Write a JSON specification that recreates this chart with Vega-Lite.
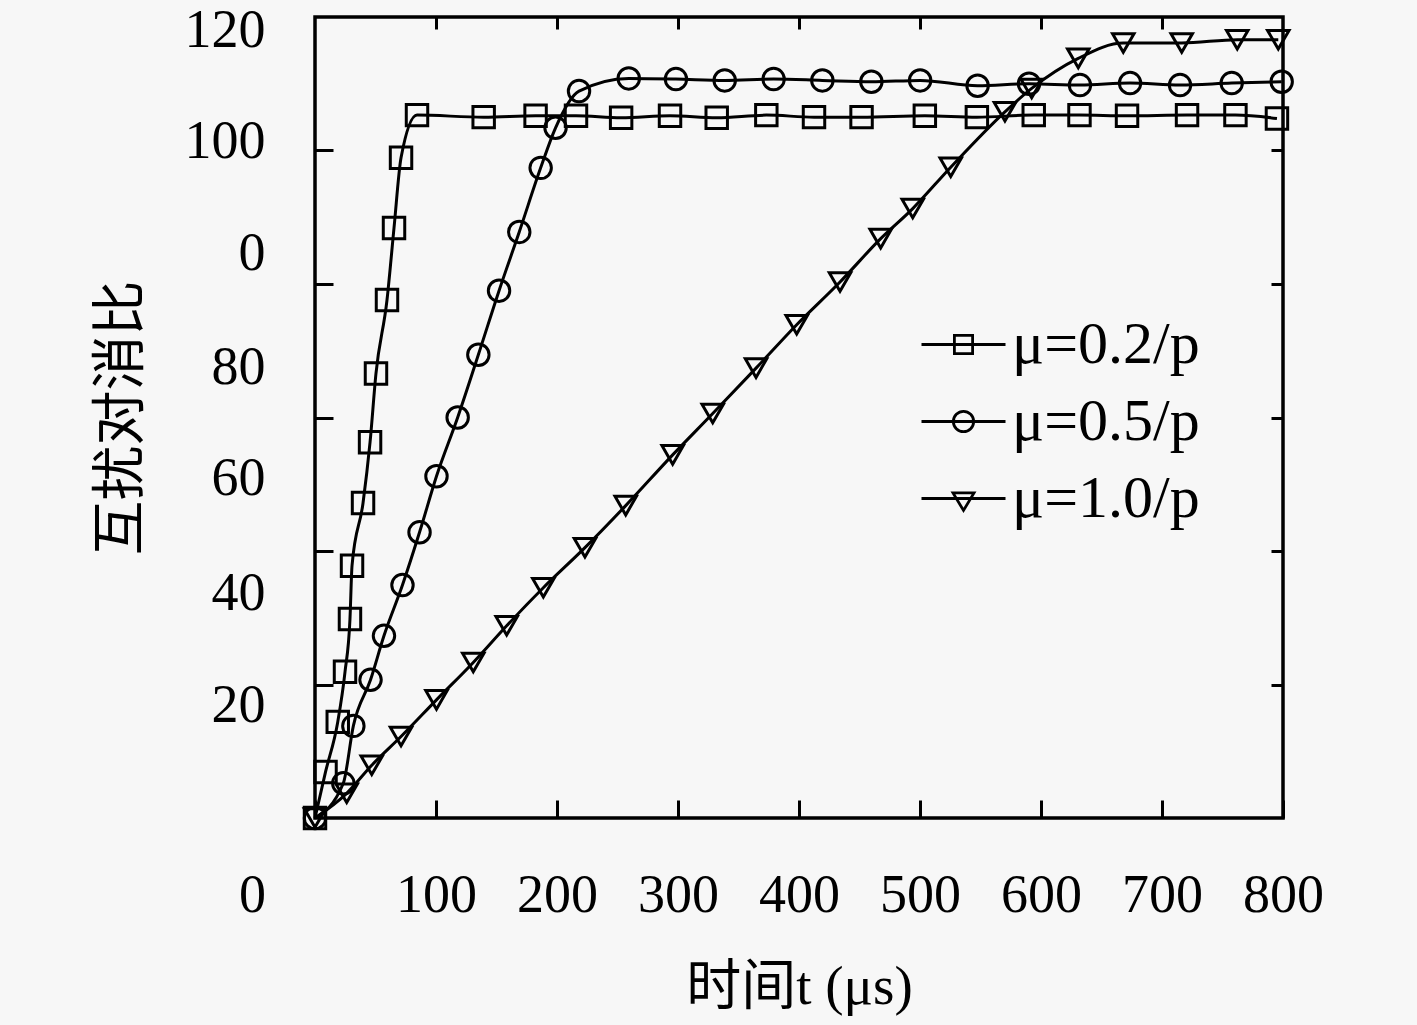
{
  "$schema": "https://vega.github.io/schema/vega-lite/v6.json",
  "width": 968,
  "height": 801,
  "autosize": {"type": "none"},
  "padding": {"left": 315, "top": 17, "right": 134, "bottom": 207},
  "background": "#f7f7f7",
  "config": {
    "view": {"stroke": "#000", "strokeWidth": 3.5},
    "axis": {"grid": false, "domain": false, "tickColor": "#000", "tickWidth": 3, "labelColor": "#000", "titleColor": "#000"}
  },
  "data": {
    "values": [
      {"series": "μ=0.2/p", "t": 0, "v": 0},
      {"series": "μ=0.2/p", "t": 8.7, "v": 6.9},
      {"series": "μ=0.2/p", "t": 18.8, "v": 14.4},
      {"series": "μ=0.2/p", "t": 24.8, "v": 21.9},
      {"series": "μ=0.2/p", "t": 28.9, "v": 29.8},
      {"series": "μ=0.2/p", "t": 30.6, "v": 37.8},
      {"series": "μ=0.2/p", "t": 39.7, "v": 47.2},
      {"series": "μ=0.2/p", "t": 45.5, "v": 56.3},
      {"series": "μ=0.2/p", "t": 50.4, "v": 66.6},
      {"series": "μ=0.2/p", "t": 59.5, "v": 77.6},
      {"series": "μ=0.2/p", "t": 65.3, "v": 88.4},
      {"series": "μ=0.2/p", "t": 71.1, "v": 98.9},
      {"series": "μ=0.2/p", "t": 84.3, "v": 105.3},
      {"series": "μ=0.2/p", "t": 139.4, "v": 105.0},
      {"series": "μ=0.2/p", "t": 182.3, "v": 105.2},
      {"series": "μ=0.2/p", "t": 215.7, "v": 105.2},
      {"series": "μ=0.2/p", "t": 253.0, "v": 104.9},
      {"series": "μ=0.2/p", "t": 293.4, "v": 105.2},
      {"series": "μ=0.2/p", "t": 332.0, "v": 104.9},
      {"series": "μ=0.2/p", "t": 373.0, "v": 105.3},
      {"series": "μ=0.2/p", "t": 412.4, "v": 105.0},
      {"series": "μ=0.2/p", "t": 451.7, "v": 105.0},
      {"series": "μ=0.2/p", "t": 504.0, "v": 105.2},
      {"series": "μ=0.2/p", "t": 547.0, "v": 105.0},
      {"series": "μ=0.2/p", "t": 594.0, "v": 105.3},
      {"series": "μ=0.2/p", "t": 631.8, "v": 105.3},
      {"series": "μ=0.2/p", "t": 671.1, "v": 105.2},
      {"series": "μ=0.2/p", "t": 720.7, "v": 105.3},
      {"series": "μ=0.2/p", "t": 760.7, "v": 105.3},
      {"series": "μ=0.2/p", "t": 795.0, "v": 104.8},
      {"series": "μ=0.5/p", "t": 0, "v": 0},
      {"series": "μ=0.5/p", "t": 23.4, "v": 5.2},
      {"series": "μ=0.5/p", "t": 31.7, "v": 13.8},
      {"series": "μ=0.5/p", "t": 45.9, "v": 20.7},
      {"series": "μ=0.5/p", "t": 57.0, "v": 27.3},
      {"series": "μ=0.5/p", "t": 72.3, "v": 34.9},
      {"series": "μ=0.5/p", "t": 86.4, "v": 42.8},
      {"series": "μ=0.5/p", "t": 100.4, "v": 51.2},
      {"series": "μ=0.5/p", "t": 117.9, "v": 60.0},
      {"series": "μ=0.5/p", "t": 135.0, "v": 69.4},
      {"series": "μ=0.5/p", "t": 152.1, "v": 79.0},
      {"series": "μ=0.5/p", "t": 168.8, "v": 87.8},
      {"series": "μ=0.5/p", "t": 186.5, "v": 97.4},
      {"series": "μ=0.5/p", "t": 198.8, "v": 103.4},
      {"series": "μ=0.5/p", "t": 218.2, "v": 108.9},
      {"series": "μ=0.5/p", "t": 259.3, "v": 110.8},
      {"series": "μ=0.5/p", "t": 298.3, "v": 110.7},
      {"series": "μ=0.5/p", "t": 338.6, "v": 110.5},
      {"series": "μ=0.5/p", "t": 379.0, "v": 110.7},
      {"series": "μ=0.5/p", "t": 419.3, "v": 110.5},
      {"series": "μ=0.5/p", "t": 459.8, "v": 110.3},
      {"series": "μ=0.5/p", "t": 500.1, "v": 110.5},
      {"series": "μ=0.5/p", "t": 547.6, "v": 109.7},
      {"series": "μ=0.5/p", "t": 590.1, "v": 110.0},
      {"series": "μ=0.5/p", "t": 632.2, "v": 109.8},
      {"series": "μ=0.5/p", "t": 673.6, "v": 110.1},
      {"series": "μ=0.5/p", "t": 714.9, "v": 109.8},
      {"series": "μ=0.5/p", "t": 757.6, "v": 110.1},
      {"series": "μ=0.5/p", "t": 798.9, "v": 110.3},
      {"series": "μ=1.0/p", "t": 0, "v": 0},
      {"series": "μ=1.0/p", "t": 26.2, "v": 3.7},
      {"series": "μ=1.0/p", "t": 46.9, "v": 7.9},
      {"series": "μ=1.0/p", "t": 71.1, "v": 12.2},
      {"series": "μ=1.0/p", "t": 100.4, "v": 17.7},
      {"series": "μ=1.0/p", "t": 130.8, "v": 23.3},
      {"series": "μ=1.0/p", "t": 158.4, "v": 28.8},
      {"series": "μ=1.0/p", "t": 188.7, "v": 34.5},
      {"series": "μ=1.0/p", "t": 223.1, "v": 40.5},
      {"series": "μ=1.0/p", "t": 256.8, "v": 46.8},
      {"series": "μ=1.0/p", "t": 295.6, "v": 54.4},
      {"series": "μ=1.0/p", "t": 328.7, "v": 60.6},
      {"series": "μ=1.0/p", "t": 364.5, "v": 67.4},
      {"series": "μ=1.0/p", "t": 398.1, "v": 73.9},
      {"series": "μ=1.0/p", "t": 433.9, "v": 80.3},
      {"series": "μ=1.0/p", "t": 467.5, "v": 86.8},
      {"series": "μ=1.0/p", "t": 494.0, "v": 91.3},
      {"series": "μ=1.0/p", "t": 525.4, "v": 97.5},
      {"series": "μ=1.0/p", "t": 570.2, "v": 105.8},
      {"series": "μ=1.0/p", "t": 592.3, "v": 109.3},
      {"series": "μ=1.0/p", "t": 630.8, "v": 113.8},
      {"series": "μ=1.0/p", "t": 668.0, "v": 116.1},
      {"series": "μ=1.0/p", "t": 716.3, "v": 116.1},
      {"series": "μ=1.0/p", "t": 762.2, "v": 116.6},
      {"series": "μ=1.0/p", "t": 796.1, "v": 116.6}
    ]
  },
  "layer": [
    {
      "mark": {"type": "line", "interpolate": "monotone", "color": "#000", "strokeWidth": 3},
      "encoding": {
        "x": {
          "field": "t", "type": "quantitative", "scale": {"domain": [0, 800]},
          "axis": {
            "orient": "bottom",
            "values": [0, 100, 200, 300, 400, 500, 600, 700, 800],
            "tickSize": -18,
            "labelPadding": 68,
            "labelFont": "Liberation Serif",
            "labelFontSize": 54,
            "labelFlush": false,
            "labelOverlap": false,
            "labelOffset": {"condition": {"test": "datum.value == 0", "value": -63}, "value": 0},
            "title": "时间t (μs)",
            "titleFont": "Liberation Serif, Noto Sans CJK SC",
            "titleFontSize": 55,
            "titleFontWeight": "normal",
            "titlePadding": 38
          }
        },
        "y": {
          "field": "v", "type": "quantitative", "scale": {"domain": [0, 120]},
          "axis": {
            "orient": "left",
            "values": [20, 40, 60, 80, 100, 118.0, 101.4, 84.5, 67.5, 50.8, 33.6, 16.9],
            "tickSize": -18,
            "tickOpacity": {"condition": {"test": "datum.value % 20 === 0", "value": 1}, "value": 0},
            "labelExpr": "datum.value == 118.0 ? '120' : datum.value == 101.4 ? '100' : datum.value == 84.5 ? '0' : datum.value == 67.5 ? '80' : datum.value == 50.8 ? '60' : datum.value == 33.6 ? '40' : datum.value == 16.9 ? '20' : ''",
            "labelPadding": 68,
            "labelFont": "Liberation Serif",
            "labelFontSize": 54,
            "labelOverlap": false,
            "title": "互扰对消比",
            "titleFont": "Noto Sans CJK SC",
            "titleFontSize": 55,
            "titleFontWeight": "normal",
            "titlePadding": 35
          }
        },
        "detail": {"field": "series"}
      }
    },
    {
      "mark": {"type": "point", "filled": false, "color": "#000", "strokeWidth": 3, "size": 460, "opacity": 1},
      "encoding": {
        "x": {
          "field": "t", "type": "quantitative", "scale": {"domain": [0, 800]},
          "axis": {"orient": "top", "values": [100, 200, 300, 400, 500, 600, 700], "tickSize": -12, "labels": false, "title": null}
        },
        "y": {
          "field": "v", "type": "quantitative", "scale": {"domain": [0, 120]},
          "axis": {"orient": "right", "values": [20, 40, 60, 80, 100], "tickSize": -12, "labels": false, "title": null}
        },
        "shape": {
          "field": "series", "type": "nominal",
          "scale": {"domain": ["μ=0.2/p", "μ=0.5/p", "μ=1.0/p"], "range": ["square", "circle", "triangle-down"]},
          "legend": null
        }
      }
    },
    {
      "mark": {"type": "point", "filled": false, "color": "#000", "strokeWidth": 2.8, "size": 1, "opacity": 0},
      "encoding": {
        "x": {"field": "t", "type": "quantitative", "scale": {"domain": [0, 800]}, "axis": null},
        "y": {"field": "v", "type": "quantitative", "scale": {"domain": [0, 120]}, "axis": null},
        "shape": {
          "field": "series", "type": "nominal",
          "scale": {
            "domain": ["μ=0.2/p", "μ=0.5/p", "μ=1.0/p"],
            "range": [
              "M-1.2,0H1.2M-0.26,-0.26H0.26V0.26H-0.26Z",
              "M-1.2,0H1.2M0.29,0A0.29,0.29,0,1,1,-0.29,0A0.29,0.29,0,1,1,0.29,0",
              "M-1.2,0H1.2M-0.3,-0.16H0.3L0,0.34Z"
            ]
          },
          "legend": {
            "orient": "none",
            "legendX": 612,
            "legendY": 291,
            "title": null,
            "padding": 0,
            "rowPadding": 10,
            "labelFont": "Liberation Serif",
            "labelFontSize": 60,
            "labelColor": "#000",
            "labelOffset": 12,
            "labelLimit": 600,
            "symbolSize": 4900,
            "symbolStrokeWidth": 2.8,
            "symbolStrokeColor": "#000",
            "symbolFillColor": "transparent",
            "symbolOpacity": 1
          }
        }
      }
    }
  ],
  "resolve": {"axis": {"x": "independent", "y": "independent"}, "scale": {"shape": "independent"}}
}
